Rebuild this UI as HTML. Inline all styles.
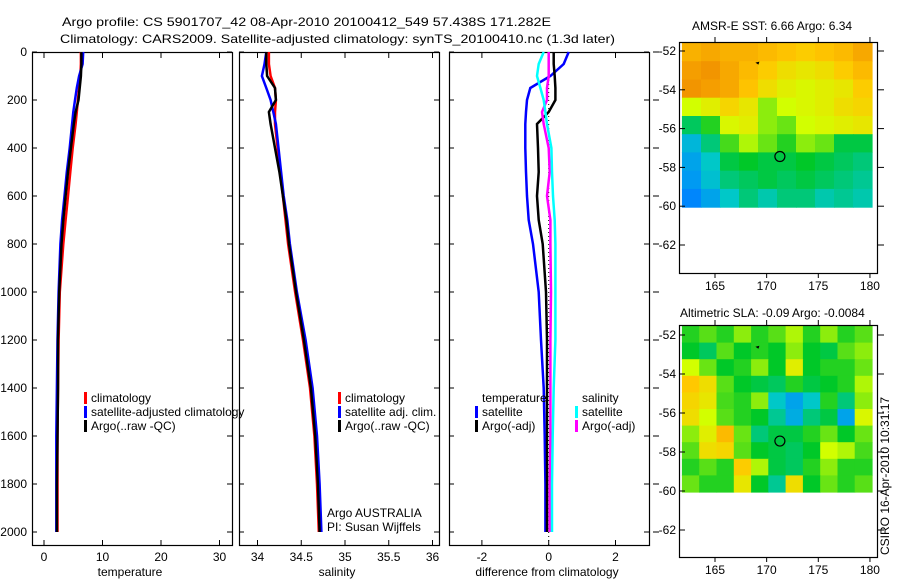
<!DOCTYPE html>
<html><head><meta charset="utf-8"><style>
body{margin:0;background:#fff}
svg{display:block}
text{font-family:"Liberation Sans",sans-serif;font-size:12px;fill:#000}
</style></head><body>
<svg id="c" width="900" height="580" xmlns="http://www.w3.org/2000/svg">
<text x="62" y="26" font-size="15.5" textLength="489" lengthAdjust="spacingAndGlyphs">Argo profile: CS 5901707_42 08-Apr-2010 20100412_549 57.438S 171.282E</text>
<text x="60" y="43" font-size="15.5" textLength="555" lengthAdjust="spacingAndGlyphs">Climatology: CARS2009. Satellite-adjusted climatology: synTS_20100410.nc (1.3d later)</text>
<text x="692" y="30" font-size="13">AMSR-E SST: 6.66 Argo: 6.34</text>
<text x="680" y="317" font-size="13">Altimetric SLA: -0.09 Argo: -0.0084</text>
<text transform="translate(889,555) rotate(-90)" font-size="13">CSIRO 16-Apr-2010 10:31:17</text>
</svg>
<script>
const NS="http://www.w3.org/2000/svg";
const svg=document.getElementById('c');
function mk(tag,attrs,parent){const e=document.createElementNS(NS,tag);for(const k in attrs)e.setAttribute(k,attrs[k]);(parent||svg).appendChild(e);return e;}

// ---- data ----
const depthTicks=[0,200,400,600,800,1000,1200,1400,1600,1800,2000];
const depths=[0,50,100,150,200,250,300,400,500,600,700,800,1000,1200,1400,1600,1800,2000];
const tempClim=[6.3,6.3,6.2,6.0,5.8,5.6,5.4,4.9,4.5,4.1,3.7,3.3,2.7,2.5,2.4,2.3,2.3,2.3];
const tempSat=[6.7,6.6,6.0,5.6,5.3,5.0,4.8,4.4,3.9,3.5,3.1,2.8,2.5,2.3,2.2,2.1,2.1,2.1];
const tempArgo=[6.4,6.4,6.3,6.1,5.9,5.4,5.1,4.6,4.1,3.7,3.3,3.0,2.6,2.4,2.4,2.3,2.2,2.2];
const salClim=[34.13,34.13,34.15,34.2,34.21,34.2,34.2,34.23,34.26,34.29,34.32,34.35,34.43,34.52,34.6,34.65,34.68,34.7];
const salSat=[34.1,34.08,34.05,34.1,34.15,34.18,34.21,34.24,34.27,34.3,34.34,34.37,34.45,34.55,34.63,34.68,34.71,34.73];
const salArgo=[34.1,34.1,34.11,34.2,34.21,34.13,34.15,34.2,34.25,34.29,34.33,34.36,34.44,34.53,34.61,34.66,34.69,34.71];
const dTempSat=[0.6,0.45,0.05,-0.55,-0.65,-0.68,-0.7,-0.7,-0.68,-0.65,-0.6,-0.47,-0.3,-0.23,-0.15,-0.12,-0.1,-0.1];
const dTempArgo=[0.15,0.15,0.18,0.2,0.2,0.0,-0.35,-0.32,-0.3,-0.35,-0.3,-0.18,-0.08,-0.05,-0.05,-0.05,-0.05,-0.05];
const dSalArgo=[0.0,0.0,0.0,-0.05,-0.05,-0.2,-0.15,0.0,0.03,-0.05,0.05,0.05,0.07,0.05,0.05,0.05,0.03,0.03];
const dSalSat=[-0.15,-0.3,-0.35,-0.25,-0.15,-0.1,-0.05,0.08,0.1,0.13,0.18,0.2,0.2,0.2,0.15,0.12,0.1,0.1];
const tempTicks=[0,10,20,30];
const salTicks=[34,34.5,35,35.5,36];
const diffTicks=[-2,0,2];
const latTicks=[-52,-54,-56,-58,-60,-62];
const lonTicks=[165,170,175,180];
const sstGrid=[
[.80,.82,.80,.80,.78,.76,.74,.76,.78,.82],
[.84,.86,.82,.78,.74,.70,.68,.70,.74,.78],
[.86,.84,.82,.76,.70,.66,.64,.66,.68,.74],
[.62,.66,.72,.68,.58,.62,.64,.66,.70,.72],
[.46,.52,.64,.66,.58,.56,.62,.64,.66,.68],
[.34,.44,.54,.60,.56,.52,.58,.56,.48,.48],
[.30,.38,.48,.50,.48,.48,.50,.48,.46,.44],
[.28,.36,.44,.46,.48,.46,.48,.46,.44,.42],
[.24,.30,.38,.44,.40,.44,.44,.40,.42,.40]];
const slaGrid=[
[.52,.55,.52,.58,.52,.55,.60,.52,.58,.52,.55],
[.50,.46,.55,.50,.52,.50,.58,.50,.48,.55,.58],
[.62,.56,.50,.52,.58,.50,.66,.50,.52,.52,.56],
[.75,.70,.55,.50,.48,.46,.52,.48,.50,.52,.60],
[.72,.68,.54,.52,.58,.38,.30,.38,.52,.44,.58],
[.70,.62,.55,.52,.50,.42,.32,.44,.48,.30,.64],
[.58,.66,.78,.56,.44,.48,.48,.52,.56,.50,.56],
[.55,.70,.72,.55,.50,.48,.46,.50,.62,.60,.54],
[.52,.55,.52,.74,.60,.48,.46,.52,.58,.52,.52],
[.56,.52,.52,.68,.50,.42,.70,.50,.56,.52,.55]];

const yDepth=d=>52+d*0.24;
const panels=[
 {name:'temperature',x0:32,x1:232,f:v=>44+v*5.85,ticks:tempTicks,label:'temperature',lx:130},
 {name:'salinity',x0:239,x1:439,f:v=>257.5+(v-34)*87.5,ticks:salTicks,label:'salinity',lx:337},
 {name:'difference',x0:449,x1:649,f:v=>548.7+v*33.4,ticks:diffTicks,label:'difference from climatology',lx:547}
];
panels.forEach((p,i)=>{
  const g=mk('g',{});
  
  
  const fr=mk('rect',{x:p.x0+.5,y:52.5,width:p.x1-p.x0,height:493,fill:'none',stroke:'#000','stroke-width':1.2},g);
  
  
  p.ticks.forEach(t=>{
    const x=p.f(t);
    mk('line',{x1:x,x2:x,y1:545,y2:540,stroke:'#000'},g);
    mk('line',{x1:x,x2:x,y1:53,y2:58,stroke:'#000'},g);
    const tl=mk('text',{x:x,y:561,'text-anchor':'middle'},g);tl.textContent=String(t);
    
    
  });
  depthTicks.forEach(d=>{
    const y=yDepth(d);
    mk('line',{x1:p.x0,x2:p.x0+5,y1:y,y2:y,stroke:'#000'},g);
    mk('line',{x1:p.x1-5,x2:p.x1,y1:y,y2:y,stroke:'#000'},g);
    if(i===0){const t=mk('text',{x:27,y:y+4,'text-anchor':'end'},g);t.textContent=String(d);
      
      }
  });
  const xl=mk('text',{x:p.lx,y:576,'text-anchor':'middle'},g);xl.textContent=p.label;
  
  
});
depthTicks.forEach(d=>{mk('line',{x1:653,x2:659,y1:yDepth(d),y2:yDepth(d),stroke:'#000'});});
const zl=mk('line',{x1:panels[2].f(0),x2:panels[2].f(0),y1:52,y2:545,stroke:'#000','stroke-dasharray':'1,3'});



function profile(p,vals,color,name,w){
  const pts=vals.map((v,k)=>p.f(v).toFixed(1)+','+yDepth(depths[k]).toFixed(1)).join(' ');
  const l=mk('polyline',{points:pts,fill:'none',stroke:color,'stroke-width':w||2.5});
  
  
}
profile(panels[0],tempClim,'#f00','temp-climatology-line');
profile(panels[0],tempSat,'#00f','temp-satellite-line');
profile(panels[0],tempArgo,'#000','temp-argo-line');
profile(panels[1],salClim,'#f00','sal-climatology-line');
profile(panels[1],salSat,'#00f','sal-satellite-line');
profile(panels[1],salArgo,'#000','sal-argo-line');
profile(panels[2],dTempSat,'#00f','diff-temp-satellite-line');
profile(panels[2],dTempArgo,'#000','diff-temp-argo-line');
profile(panels[2],dSalArgo,'#f0f','diff-sal-argo-line');
profile(panels[2],dSalSat,'#0ff','diff-sal-satellite-line');

function legend(x,y,color,label,name){
  if(color){const m=mk('rect',{x:x-7,y:y-10,width:3,height:12,fill:color});
    
    }
  const t=mk('text',{x:x,y:y});t.textContent=label;
  
  
}
legend(91,402,'#f00','climatology','legend-temp-climatology');
legend(91,416,'#00f','satellite-adjusted climatology','legend-temp-satellite');
legend(91,430,'#000','Argo(..raw -QC)','legend-temp-argo');
legend(345,402,'#f00','climatology','legend-sal-climatology');
legend(345,416,'#00f','satellite adj. clim.','legend-sal-satellite');
legend(345,430,'#000','Argo(..raw -QC)','legend-sal-argo');
legend(482,402,null,'temperature','legend-temp-header');
legend(482,416,'#00f','satellite','legend-diff-temp-satellite');
legend(482,430,'#000','Argo(-adj)','legend-diff-temp-argo');
legend(582,402,null,'salinity','legend-sal-header');
legend(582,416,'#0ff','satellite','legend-diff-sal-satellite');
legend(582,430,'#f0f','Argo(-adj)','legend-diff-sal-argo');
legend(327,517,null,'Argo AUSTRALIA','argo-australia-label');
legend(327,531,null,'PI: Susan Wijffels','pi-label');
function cmap(v){
  const stops=[[0,[0,0,180]],[.25,[0,140,255]],[.38,[0,200,200]],[.5,[0,200,40]],[.62,[210,255,0]],[.75,[255,200,0]],[.88,[240,140,0]],[1,[220,60,0]]];
  for(let i=1;i<stops.length;i++){if(v<=stops[i][0]){const a=stops[i-1],b=stops[i],t=(v-a[0])/(b[0]-a[0]);
    return 'rgb('+a[1].map((c,k)=>Math.round(c+(b[1][k]-c)*t)).join(',')+')';}}
  return 'rgb(220,60,0)';
}
function drawMap(name,grid,top,bottom,lat52y,lat62y){
  const g=mk('g',{});
  
  
  const lonX=l=>715+(l-165)*10.33;
  const latY=l=>lat52y+(-52-l)*(lat62y-lat52y)/10;
  const x0=lonX(161.8),x1=lonX(180.2),y0=top+1,y1=latY(-60.05);
  const rows=grid.length,cols=grid[0].length,cw=(x1-x0)/cols,ch=(y1-y0)/rows;
  grid.forEach((r,i)=>r.forEach((v,j)=>{
    const c=mk('rect',{x:(x0+j*cw).toFixed(1),y:(y0+i*ch).toFixed(1),width:(cw+.6).toFixed(1),height:(ch+.6).toFixed(1),fill:cmap(v)},g);
    
    
  }));
  const fr=mk('rect',{x:679.5,y:top+.5,width:198,height:bottom-top,fill:'none',stroke:'#000','stroke-width':1.2},g);
  
  
  latTicks.forEach(l=>{const y=latY(l);
    mk('line',{x1:679,x2:685,y1:y,y2:y,stroke:'#000'},g);
    mk('line',{x1:878,x2:884,y1:y,y2:y,stroke:'#000'},g);
    const t=mk('text',{x:676,y:y+4,'text-anchor':'end'},g);t.textContent=String(l);
    
    });
  lonTicks.forEach(l=>{const x=lonX(l);
    mk('line',{x1:x,x2:x,y1:top-5,y2:top,stroke:'#000'},g);
    mk('line',{x1:x,x2:x,y1:bottom,y2:bottom+5,stroke:'#000'},g);
    const t=mk('text',{x:x,y:bottom+17,'text-anchor':'middle'},g);t.textContent=String(l);
    
    });
  const m=mk('circle',{cx:lonX(171.282),cy:latY(-57.438),r:5,fill:'none',stroke:'#000','stroke-width':1.2},g);
  
  
  mk('path',{d:`M${lonX(169.3)} ${latY(-52.55)} l-4 1 l3 2 z`,fill:'#000'},g);
}
drawMap('sst-map',sstGrid,42,273,51,245);
drawMap('sla-map',slaGrid,325,557,335,530);
</script>
</body></html>
